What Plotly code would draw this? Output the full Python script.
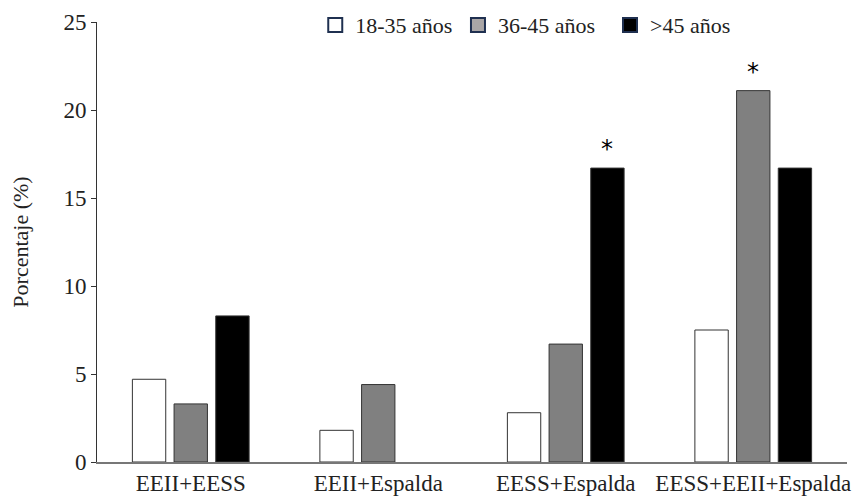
import plotly.graph_objects as go

categories = ["EEII+EESS", "EEII+Espalda", "EESS+Espalda", "EESS+EEII+Espalda"]
series_names = ["18-35 años", "36-45 años", ">45 años"]
v_18_35 = [4.7, 1.8, 2.8, 7.5]
v_36_45 = [3.3, 4.4, 6.7, 21.1]
v_45 = [8.3, 0.0, 16.7, 16.7]
colors = ["#ffffff", "#808080", "#000000"]
legend_colors = ["#ffffff", "#aaa6a6", "#000000"]
y_ticks = [0, 5, 10, 15, 20, 25]
star_cats = ["EESS+Espalda", "EESS+EEII+Espalda"]
star_vals = [16.7, 21.1]
star_bar = [2, 1]  # which bar within the group carries the star

FONT = "Liberation Serif"
legend_ids = ["legend", "legend2", "legend3"]
legend_x = [0.291, 0.4813, 0.684]

fig = go.Figure()
for name, vals, col in zip(series_names, [v_18_35, v_36_45, v_45], colors):
    fig.add_trace(go.Bar(
        x=categories, y=vals, name=name, showlegend=False,
        marker=dict(color=col, line=dict(color="#333333",
                                         width=[1 if v > 0 else 0 for v in vals])),
    ))
# legend-only entries (navy-outlined swatches as in the reference)
for name, col, lid in zip(series_names, legend_colors, legend_ids):
    fig.add_trace(go.Scatter(
        x=[None], y=[None], name=name, legend=lid, showlegend=True, mode="markers",
        marker=dict(symbol="square", size=14, color=col,
                    line=dict(color="#1f3050", width=2)),
        hoverinfo="skip",
    ))

offsets = [-0.222, 0.0, 0.222]
for cat, val, b in zip(star_cats, star_vals, star_bar):
    idx = categories.index(cat)
    fig.add_annotation(x=idx + offsets[b], y=val, text="*", showarrow=False,
                       yanchor="bottom", yshift=3,
                       font=dict(family="DejaVu Sans", size=24, color="#000"))

leg_common = dict(orientation="h", xanchor="left", y=0.993, yanchor="middle",
                  font=dict(family=FONT, size=22, color="#222"),
                  itemwidth=30, bgcolor="rgba(0,0,0,0)")

fig.update_layout(
    width=854, height=499,
    margin=dict(l=97, r=7, t=22, b=37, autoexpand=False),
    paper_bgcolor="white", plot_bgcolor="white",
    barmode="group", bargap=0.333, bargroupgap=0.2,
    font=dict(family=FONT, size=22, color="#222"),
    showlegend=True,
    legend=dict(x=legend_x[0], **leg_common),
    legend2=dict(x=legend_x[1], **leg_common),
    legend3=dict(x=legend_x[2], **leg_common),
    xaxis=dict(showline=True, linecolor="#777", linewidth=1.5, ticks="",
               showgrid=False, zeroline=False, tickfont=dict(size=23),
               range=[-0.5, 3.5], automargin=False),
    yaxis=dict(range=[0, 25], tickvals=y_ticks, showline=True, linecolor="#333",
               linewidth=1, ticks="outside", ticklen=5, tickcolor="#333",
               showgrid=False, zeroline=False, tickfont=dict(size=23),
               automargin=False,
               title=dict(text="Porcentaje (%)", font=dict(size=22), standoff=28)),
)

fig.write_html(
    "out.html",
    config={"displayModeBar": False},
    post_script="document.body.style.margin='0';document.body.style.overflow='hidden';",
)
